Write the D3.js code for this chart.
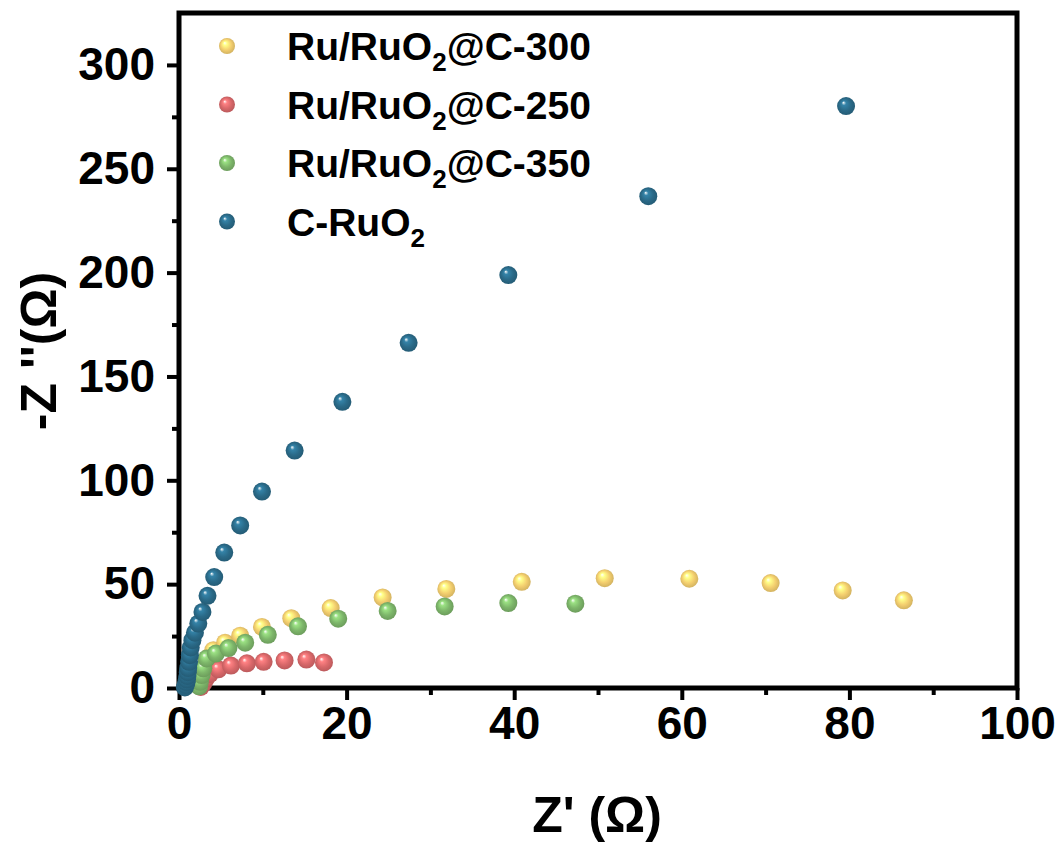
<!DOCTYPE html>
<html>
<head>
<meta charset="utf-8">
<script src="https://cdn.jsdelivr.net/npm/d3@7"></script>
<style>
  html, body { margin: 0; padding: 0; background: #fff; }
  svg { display: block; font-family: "Liberation Sans", Arial, sans-serif; font-weight: bold; }
</style>
</head>
<body>
<svg id="chart" width="1064" height="843"></svg>
<script>
  // Nyquist data, Z' and -Z'' in ohm
  const seriesNames = ["Ru/RuO2@C-300", "Ru/RuO2@C-250", "Ru/RuO2@C-350", "C-RuO2"];
  const seriesColors = ["#f4cf6f", "#d9686a", "#7db66a", "#2a6a88"];

  const c300Re = [2.6, 2.8, 3.0, 3.3, 3.6, 4.1, 5.5, 7.3, 9.9, 13.4, 18.1, 24.3, 31.9, 40.9, 50.8, 60.9, 70.6, 79.2, 86.5];
  const c300Im = [3.0, 6.0, 9.0, 12.0, 15.0, 18.2, 21.8, 25.2, 29.4, 33.6, 38.5, 43.6, 47.7, 51.1, 52.9, 52.6, 50.5, 47.0, 42.2];

  const c250Re = [2.6, 2.9, 3.2, 3.7, 4.7, 6.2, 8.1, 10.1, 12.6, 15.2, 17.3];
  const c250Im = [0.5, 2.2, 4.4, 6.8, 9.0, 10.8, 11.9, 12.6, 13.3, 13.7, 12.3];

  const c350Re = [2.4, 2.5, 2.7, 2.9, 3.3, 4.4, 5.9, 7.9, 10.6, 14.2, 19.0, 24.9, 31.7, 39.3, 47.3];
  const c350Im = [0.8, 3.0, 6.2, 9.5, 14.2, 16.6, 19.2, 21.8, 25.6, 29.7, 33.4, 37.1, 39.3, 40.9, 40.6];

  const cRuO2Re = [0.7, 0.8, 0.9, 0.95, 1.0, 1.05, 1.1, 1.2, 1.3, 1.4, 1.6, 1.9, 2.3, 2.8, 3.4, 4.2, 5.4, 7.3, 9.9, 13.8, 19.5, 27.4, 39.3, 56.0, 79.6];
  const cRuO2Im = [0.3, 1.5, 2.8, 4.2, 5.8, 7.6, 9.6, 12.6, 15.8, 19.5, 23.0, 26.6, 31.0, 36.6, 44.4, 53.4, 65.2, 78.3, 94.6, 114.3, 137.8, 166.2, 198.8, 236.8, 280.2];

  const xTicks = [0, 20, 40, 60, 80, 100];
  const yTicks = [0, 50, 100, 150, 200, 250, 300];

  (() => {
    const series = [
      { name: seriesNames[0], color: seriesColors[0], re: c300Re, im: c300Im },
      { name: seriesNames[1], color: seriesColors[1], re: c250Re, im: c250Im },
      { name: seriesNames[2], color: seriesColors[2], re: c350Re, im: c350Im },
      { name: seriesNames[3], color: seriesColors[3], re: cRuO2Re, im: cRuO2Im },
    ];

    const svg = d3.select("#chart");
    const plotLeft = 179, plotRight = 1017, plotTop = 13, plotBottom = 688;

    const x = d3.scaleLinear().domain([0, 100]).range([plotLeft, plotRight]);
    const y = d3.scaleLinear().domain([0, 325]).range([plotBottom, plotTop]);

    // glossy ball fills
    const defs = svg.append("defs");
    series.forEach((s, i) => {
      const base = d3.rgb(s.color);
      const g = defs.append("radialGradient")
        .attr("id", `ball${i}`)
        .attr("cx", "50%").attr("cy", "50%").attr("r", "55%")
        .attr("fx", "35%").attr("fy", "30%");
      g.append("stop").attr("offset", "0%").attr("stop-color", "#ffffff");
      g.append("stop").attr("offset", "22%").attr("stop-color", base.brighter(0.6));
      g.append("stop").attr("offset", "60%").attr("stop-color", base);
      g.append("stop").attr("offset", "100%").attr("stop-color", base.darker(0.5));
    });

    const styleTicks = (g) => g.selectAll("line").attr("stroke", "#000").attr("stroke-width", 4);
    const styleLabels = (g) => g.selectAll("text").attr("fill", "#000").attr("font-size", 46)
      .attr("font-family", "'Liberation Sans', Arial, sans-serif").attr("font-weight", "bold");

    // minor ticks
    svg.append("g")
      .attr("transform", `translate(0,${plotBottom})`)
      .call(d3.axisBottom(x).tickValues(d3.range(10, 100, 20)).tickSize(7).tickFormat(""))
      .call((g) => g.select(".domain").remove())
      .call(styleTicks);
    svg.append("g")
      .attr("transform", `translate(${plotLeft},0)`)
      .call(d3.axisLeft(y).tickValues(d3.range(25, 325, 50)).tickSize(7).tickFormat(""))
      .call((g) => g.select(".domain").remove())
      .call(styleTicks);

    // major ticks with labels
    svg.append("g")
      .attr("transform", `translate(0,${plotBottom})`)
      .call(d3.axisBottom(x).tickValues(xTicks).tickSize(12).tickPadding(6))
      .call((g) => g.select(".domain").remove())
      .call(styleTicks)
      .call(styleLabels);
    svg.append("g")
      .attr("transform", `translate(${plotLeft},0)`)
      .call(d3.axisLeft(y).tickValues(yTicks).tickSize(12).tickPadding(12))
      .call((g) => g.select(".domain").remove())
      .call(styleTicks)
      .call(styleLabels);

    // frame
    svg.append("rect")
      .attr("x", plotLeft).attr("y", plotTop)
      .attr("width", plotRight - plotLeft).attr("height", plotBottom - plotTop)
      .attr("fill", "none").attr("stroke", "#000").attr("stroke-width", 5);

    // points
    series.forEach((s, i) => {
      svg.append("g")
        .selectAll("circle")
        .data(s.re.map((v, k) => [v, s.im[k]]))
        .join("circle")
        .attr("cx", (d) => x(d[0]))
        .attr("cy", (d) => y(d[1]))
        .attr("r", 9)
        .attr("fill", `url(#ball${i})`);
    });

    // legend, with the oxide's 2 set as a subscript
    const legend = svg.append("g");
    series.forEach((s, i) => {
      const ly = 46 + i * 58.5;
      legend.append("circle")
        .attr("cx", 227).attr("cy", ly).attr("r", 8)
        .attr("fill", `url(#ball${i})`);
      const cut = s.name.indexOf("O2") + 1;
      const t = legend.append("text")
        .attr("x", 287).attr("y", ly + 14)
        .attr("font-size", 39).attr("fill", "#000");
      t.append("tspan").text(s.name.slice(0, cut));
      t.append("tspan").attr("font-size", 26).attr("dy", 11).text("2");
      const rest = s.name.slice(cut + 1);
      if (rest) t.append("tspan").attr("dy", -11).text(rest);
    });

    // axis titles
    svg.append("text")
      .attr("x", 597).attr("y", 832)
      .attr("text-anchor", "middle").attr("font-size", 50).attr("fill", "#000")
      .text("Z' (Ω)");
    svg.append("text")
      .attr("transform", "translate(56,351) rotate(-90)")
      .attr("text-anchor", "middle").attr("font-size", 50).attr("fill", "#000")
      .text("-Z ''(Ω)");
  })();
</script>
</body>
</html>
